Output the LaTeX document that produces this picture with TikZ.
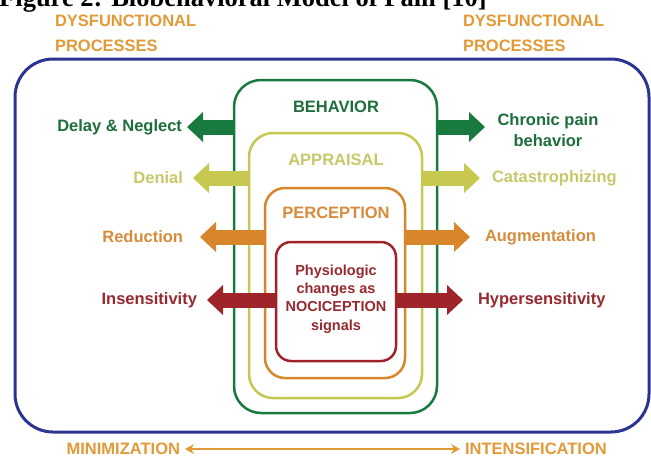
\documentclass[tikz,border=0pt]{standalone}
\usepackage{fontspec}
\usetikzlibrary{arrows.meta}
\newfontfamily\hv{Liberation Sans}
\newfontfamily\tm{Liberation Serif}
\definecolor{blueC}{RGB}{44,52,145}
\definecolor{greenC}{RGB}{24,122,62}
\definecolor{greenT}{RGB}{30,110,60}
\definecolor{yellowC}{RGB}{198,200,80}
\definecolor{yellowT}{RGB}{200,200,105}
\definecolor{orangeC}{RGB}{216,134,44}
\definecolor{orangeT}{RGB}{214,140,60}
\definecolor{redC}{RGB}{158,36,42}
\definecolor{redT}{RGB}{150,42,46}
\definecolor{topO}{RGB}{226,154,56}
\begin{document}
\begin{tikzpicture}[x=1pt,y=-1pt,
  lab/.style={font=\hv\bfseries\fontsize{16.5}{21}\selectfont, inner sep=0pt, outer sep=0pt},
  ring/.style={draw, line width=2.5pt, inner sep=0pt, outer sep=0pt},
  fat/.style={line width=15pt, -{Triangle[length=16pt,width=30pt,line width=0pt]}},
  thin/.style={draw=topO, line width=2.5pt, {Stealth[length=9pt,width=10pt,line width=0pt]}-{Stealth[length=9pt,width=10pt,line width=0pt]}}
]
\useasboundingbox (0,0) rectangle (651,459);
\fill[white] (0,0) rectangle (651,459);
\begin{scope}
\clip (0,0) rectangle (651,459);
% title (cut off at the top)
\node[anchor=base west, inner sep=0pt, font=\tm\bfseries\fontsize{26.5}{30}\selectfont] (title) at (-1,6.5) {Figure 2: Biobehavioral Model of Pain [10]};
\end{scope}

% top labels
\node[lab, text=topO, anchor=base west] (dysL1) at (55,26.5) {DYSFUNCTIONAL};
\node[lab, text=topO, anchor=base west] (dysL2) at (55,51) {PROCESSES};
\node[lab, text=topO, anchor=base west] (dysR1) at (463,26.5) {DYSFUNCTIONAL};
\node[lab, text=topO, anchor=base west] (dysR2) at (463,51) {PROCESSES};

% outer box
\draw[blueC, line width=3pt, rounded corners=38pt] (15,59) rectangle (649,432);

% nested boxes
\node[ring, draw=greenC, rounded corners=27pt, minimum width=203pt, minimum height=333pt] (green) at (335.5,246.5) {};
\node[ring, draw=yellowC, rounded corners=24pt, minimum width=173pt, minimum height=265pt] (yellow) at (335.5,265.5) {};
\node[ring, draw=orangeC, rounded corners=20pt, minimum width=140pt, minimum height=190pt] (orange) at (335,283) {};
\node[ring, draw=redC, rounded corners=15pt, minimum width=120pt, minimum height=119pt] (red) at (336,301.5) {};

% box titles
\node[lab, text=greenT] (beh) at (336,107) {BEHAVIOR};
\node[lab, text=yellowT] (app) at (336,160) {APPRAISAL};
\node[lab, text=orangeT] (per) at (336,213) {PERCEPTION};
\node[lab, text=redT, align=center, font=\hv\bfseries\fontsize{14.5}{18.3}\selectfont] (noc) at (336,299) {Physiologic\\changes as\\NOCICEPTION\\signals};

% side labels
\node[lab, text=greenT, anchor=east] (delay) at (182,127) {Delay \& Neglect};
\node[lab, text=yellowT, anchor=east] (denial) at (183,178) {Denial};
\node[lab, text=orangeT, anchor=east] (reduc) at (183,237) {Reduction};
\node[lab, text=redT, anchor=east] (insens) at (197,300) {Insensitivity};
\node[lab, text=greenT, align=center, font=\hv\bfseries\fontsize{16.5}{21}\selectfont] (chronic) at (548,130) {Chronic pain\\behavior};
\node[lab, text=yellowT, anchor=west] (cata) at (492,178) {Catastrophizing};
\node[lab, text=orangeT, anchor=west] (augm) at (485,237) {Augmentation};
\node[lab, text=redT, anchor=west] (hyper) at (478,300) {Hypersensitivity};

% arrow tips
\coordinate (tg1) at (187,127);
\coordinate (ty1) at (193,178);
\coordinate (to1) at (200,237);
\coordinate (tr1) at (207,300);
\coordinate (tg2) at (485,127);
\coordinate (ty2) at (480,178);
\coordinate (to2) at (470,237);
\coordinate (tr2) at (463,300);

\draw[fat, greenC] (green.west |- tg1) -- (tg1);
\draw[fat, greenC] (green.east |- tg2) -- (tg2);
\draw[fat, yellowC] (yellow.west |- ty1) -- (ty1);
\draw[fat, yellowC] (yellow.east |- ty2) -- (ty2);
\draw[fat, orangeC] (orange.west |- to1) -- (to1);
\draw[fat, orangeC] (orange.east |- to2) -- (to2);
\draw[fat, redC] (red.west |- tr1) -- (tr1);
\draw[fat, redC] (red.east |- tr2) -- (tr2);

% bottom scale
\node[lab, text=topO, anchor=east] (mini) at (180,449) {MINIMIZATION};
\node[lab, text=topO, anchor=west] (inten) at (465,449) {INTENSIFICATION};
\draw[thin] ([xshift=5pt]mini.east) -- ([xshift=-5pt]inten.west);
\end{tikzpicture}
\end{document}
